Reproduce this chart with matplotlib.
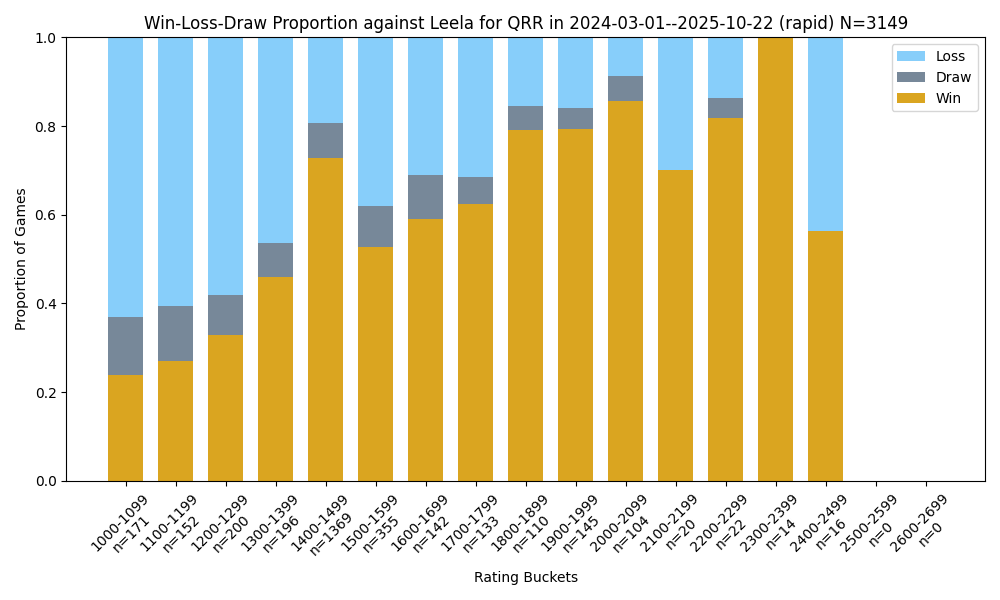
import numpy as np
from matplotlib import pyplot as plt

buckets = ["1000-1099", "1100-1199", "1200-1299", "1300-1399", "1400-1499",
           "1500-1599", "1600-1699", "1700-1799", "1800-1899", "1900-1999",
           "2000-2099", "2100-2199", "2200-2299", "2300-2399", "2400-2499",
           "2500-2599", "2600-2699"]
totals = [171, 152, 200, 196, 1369, 355, 142, 133, 110, 145, 104, 20, 22, 14, 16, 0, 0]
wins = [41, 41, 66, 90, 998, 187, 84, 83, 87, 115, 89, 14, 18, 14, 9, 0, 0]
draws = [22, 19, 18, 15, 107, 33, 14, 8, 6, 7, 6, 0, 1, 0, 0, 0, 0]

totals_arr = np.array(totals, dtype=float)
safe = np.where(totals_arr > 0, totals_arr, 1)
win_p = np.array(wins) / safe
draw_p = np.array(draws) / safe
loss_p = np.where(totals_arr > 0, 1 - win_p - draw_p, 0)

x = np.arange(len(buckets))
labels = [f"{b}\nn={n}" for b, n in zip(buckets, totals)]

plt.figure(figsize=(10, 6))
w = plt.bar(x, win_p, width=0.7, color="goldenrod", label="Win")
d = plt.bar(x, draw_p, width=0.7, bottom=win_p, color="lightslategray", label="Draw")
l = plt.bar(x, loss_p, width=0.7, bottom=win_p + draw_p, color="lightskyblue", label="Loss")
plt.xticks(x, labels, rotation=45)
plt.ylim(0, 1)
plt.xlabel("Rating Buckets")
plt.ylabel("Proportion of Games")
plt.title(f"Win-Loss-Draw Proportion against Leela for QRR in 2024-03-01--2025-10-22 (rapid) N={sum(totals)}")
plt.legend(handles=[l, d, w])
plt.tight_layout()
plt.savefig("out.png", dpi=100)
